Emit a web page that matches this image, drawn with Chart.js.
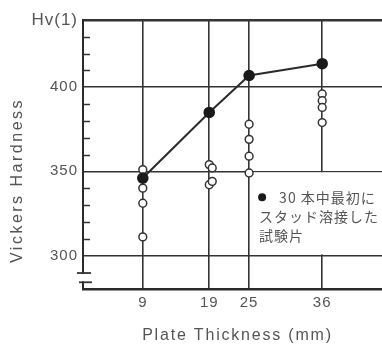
<!DOCTYPE html>
<html><head><meta charset="utf-8">
<script src="https://cdn.jsdelivr.net/npm/chart.js@4/dist/chart.umd.min.js"></script>
<style>html,body{margin:0;padding:0;background:#fff;overflow:hidden}#wrap{width:382px;height:344px;position:relative}</style>
</head><body><div id="wrap"><canvas id="c" width="382" height="344"></canvas></div>
<script>
// ---- data ----
const thickness = [9, 19, 25, 36];
const firstWeldHv = [346, 385, 407, 414];
const sampleThickness = [9, 9, 9, 9, 19, 19.45, 19, 19.45, 25, 25, 25, 25, 36, 36, 36, 36];
const sampleHv = [351, 340, 331, 311, 354, 352, 342, 344, 378, 369, 359, 349, 396, 392, 388, 379];
const xTicks = [9, 19, 25, 36];
const yTicks = [280, 290, 300, 310, 320, 330, 340, 350, 360, 370, 380, 390, 400, 410, 420, 430, 440];
const yMajorTicks = [300, 350, 400];
const yTickLabels = {300: '300', 350: '350', 400: '400', 440: 'Hv(1)'};
const legendLines = ['30 本中最初に', 'スタッド溶接した', '試験片'];
const xTitle = 'Plate Thickness (mm)';
const yTitle = 'Vickers Hardness';

const LAT = "'Liberation Sans', Arial, sans-serif";
const CJK = "'Noto Sans CJK JP', sans-serif";
const TXT = '#555';
const INK = '#333';

const decor = {
  id: 'decor',
  beforeDraw(chart) { chart.ctx.letterSpacing = '1px'; },
  beforeDatasetsDraw(chart) {
    const {ctx, chartArea: a, scales: {x, y}} = chart;
    ctx.save();
    // legend box (white) between 350 and 300, right of 25
    const x0 = x.getPixelForValue(25) + 1;
    const y0 = y.getPixelForValue(350) + 1;
    const y1 = y.getPixelForValue(300) - 1;
    ctx.fillStyle = '#fff';
    ctx.fillRect(x0, y0, a.right - x0 + 2, y1 - y0);
    // minor ticks inside the y axis
    ctx.strokeStyle = INK; ctx.lineWidth = 1.5;
    yTicks.forEach(v => {
      if (v <= 290 || v >= 440 || yMajorTicks.includes(v)) return;
      const py = Math.round(y.getPixelForValue(v)) + 0.5;
      ctx.beginPath(); ctx.moveTo(a.left, py); ctx.lineTo(a.left + 7, py); ctx.stroke();
    });
    // axis break
    const b1 = y.getPixelForValue(289.5), b2 = y.getPixelForValue(284);
    ctx.fillStyle = '#fff';
    ctx.fillRect(a.left - 3, b1 + 1, 6, b2 - b1 - 2);
    ctx.lineWidth = 1.8;
    ctx.beginPath(); ctx.moveTo(a.left - 6, b1); ctx.lineTo(a.left + 8, b1); ctx.stroke();
    ctx.beginPath(); ctx.moveTo(a.left - 4, b2); ctx.lineTo(a.left + 9, b2); ctx.stroke();
    ctx.restore();
  },
  afterDatasetsDraw(chart) {
    const {ctx, chartArea: a, scales: {x, y}} = chart;
    ctx.save();
    const lx = x.getPixelForValue(25);
    const ly = y.getPixelForValue(350);
    ctx.fillStyle = '#1a1a1a';
    ctx.beginPath(); ctx.arc(lx + 13, ly + 26, 4, 0, Math.PI * 2); ctx.fill();
    ctx.fillStyle = TXT;
    ctx.font = '14px ' + CJK;
    ctx.letterSpacing = '1px';
    ctx.textBaseline = 'middle';
    ctx.textAlign = 'left';
    ctx.fillText(legendLines[0], lx + 30, ly + 26);
    ctx.fillText(legendLines[1], lx + 10, ly + 45);
    ctx.fillText(legendLines[2], lx + 10, ly + 64);
    // axis titles
    ctx.font = '16px ' + LAT;
    ctx.letterSpacing = '1.8px';
    ctx.textAlign = 'left';
    let w = ctx.measureText(xTitle).width;
    ctx.fillText(xTitle, (a.left + a.right) / 2 + 5 - w / 2, a.bottom + 47);
    ctx.letterSpacing = '2.5px';
    w = ctx.measureText(yTitle).width;
    ctx.translate(18, (a.top + a.bottom) / 2 + 26);
    ctx.rotate(-Math.PI / 2);
    ctx.fillText(yTitle, -w / 2, 0);
    ctx.restore();
  }
};

new Chart(document.getElementById('c'), {
  type: 'scatter',
  data: {
    datasets: [
      {
        type: 'line',
        data: thickness.map((t, i) => ({x: t, y: firstWeldHv[i]})),
        borderColor: '#2b2b2b', borderWidth: 2,
        pointRadius: 4.8, pointBackgroundColor: '#1a1a1a', pointBorderColor: '#1a1a1a',
        showLine: true, order: 0
      },
      {
        data: sampleThickness.map((t, i) => ({x: t, y: sampleHv[i]})),
        pointRadius: 3.9, pointBackgroundColor: '#fff', pointBorderColor: INK, pointBorderWidth: 1.5,
        showLine: false, order: 1
      }
    ]
  },
  options: {
    responsive: false, animation: false, devicePixelRatio: 1,
    layout: {autoPadding: false, padding: {top: 20, right: 0, left: 0, bottom: 0}},
    plugins: {legend: {display: false}, tooltip: {enabled: false}},
    scales: {
      x: {
        type: 'linear', min: 0, max: 45,
        afterBuildTicks: s => { s.ticks = xTicks.map(v => ({value: v})); },
        afterFit: s => { s.height = 55; s.paddingLeft = 0; s.paddingRight = 0; },
        ticks: {color: TXT, font: {family: LAT, size: 15}, padding: 5, maxRotation: 0, autoSkip: false},
        grid: {color: INK, lineWidth: 1.6, drawTicks: false},
        border: {color: '#2a2a2a', width: 2.5},
        title: {display: false}
      },
      y: {
        type: 'linear', min: 280, max: 440,
        afterBuildTicks: s => { s.ticks = yTicks.map(v => ({value: v})); },
        afterFit: s => { s.width = 83; },
        ticks: {color: TXT, padding: 5, autoSkip: false,
          font: c => ({family: LAT, size: (c.tick && c.tick.value === 440) ? 17 : 15}),
          callback: v => yTickLabels[v] ?? ''},
        grid: {
          drawTicks: false,
          color: c => (yMajorTicks.includes(c.tick.value) || c.tick.value === 440) ? INK : 'rgba(0,0,0,0)',
          lineWidth: c => c.tick.value === 440 ? 2.5 : 1.6
        },
        border: {color: '#2a2a2a', width: 2},
        title: {display: false}
      }
    }
  },
  plugins: [decor]
});
</script>
</body></html>
